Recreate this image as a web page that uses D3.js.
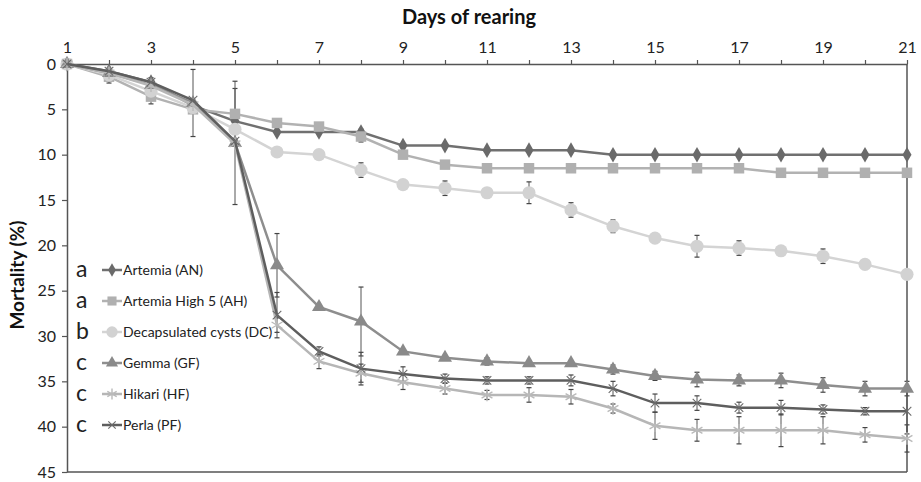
<!DOCTYPE html>
<html>
<head>
<meta charset="utf-8">
<script src="https://cdn.jsdelivr.net/npm/d3@7"></script>
<style>
  body { margin: 0; background: #fff; }
  svg text { font-family: Lato, "Liberation Sans", sans-serif; }
</style>
</head>
<body>
<svg id="chart" width="921" height="482"></svg>
<script>
// Days on the top axis
var days = [1,2,3,4,5,6,7,8,9,10,11,12,13,14,15,16,17,18,19,20,21];
var mortalityTicks = [0,5,10,15,20,25,30,35,40,45];

// Series values (mortality %)
var seriesNames = ["Artemia (AN)", "Artemia High 5 (AH)", "Decapsulated cysts (DC)", "Gemma (GF)", "Hikari (HF)", "Perla (PF)"];
var groupLetters = ["a", "a", "b", "c", "c", "c"];
var valuesAN = [0,0.8,2.0,4.6,6.3,7.5,7.5,7.5,9.0,9.0,9.5,9.5,9.5,10,10,10,10,10,10,10,10];
var valuesAH = [0,1.4,3.6,5.0,5.5,6.5,6.9,8.0,10.0,11.1,11.5,11.5,11.5,11.5,11.5,11.5,11.5,12,12,12,12];
var valuesDC = [0,1.2,3.0,4.8,7.2,9.7,10.0,11.7,13.3,13.7,14.2,14.2,16.1,17.9,19.2,20.1,20.3,20.6,21.2,22.1,23.2];
var valuesGF = [0,1.0,2.3,4.3,8.7,22.2,26.8,28.4,31.7,32.4,32.8,33.0,33.0,33.7,34.4,34.8,34.9,34.9,35.4,35.8,35.8];
var valuesHF = [0,1.0,2.4,4.5,8.8,28.8,32.8,34.1,35.1,35.8,36.5,36.5,36.7,38.0,39.9,40.4,40.4,40.4,40.4,40.9,41.3];
var valuesPF = [0,0.8,2.0,4.0,8.5,27.7,31.7,33.6,34.2,34.7,34.9,34.9,34.9,35.8,37.4,37.4,37.9,37.9,38.1,38.3,38.3];

// Error bar half-widths (0 = none visible)
var errAN = [0,0.3,0.5,0,0,0,0,0.3,0,0,0,0,0,0,0,0,0,0,0,0,0];
var errAH = [0,0.7,0.8,0,2.8,0,0,0.6,0.3,0,0,0,0,0,0,0,0,0,0,0,0];
var errDC = [0,0,0,0,0,0,0,0.8,0,0.8,0,1.2,0.8,0.7,0,1.2,0.8,0,0.8,0,0];
var errGF = [0,0,0,3.7,6.8,3.5,0,3.8,0,0,0.4,0,0,0.5,0.5,0.8,0.6,0.8,0.8,0.8,0.8];
var errHF = [0,0,0,0,0,0.8,0.8,1.0,0.8,0.6,0.5,0.8,0.8,0.5,1.5,1.2,1.5,1.8,1.5,0.8,1.5];
var errPF = [0,0,0,0,0,2.5,0.5,1.8,0.8,0.5,0.4,0.4,0.6,0.8,1.0,0.8,0.6,0.8,0.5,0.4,2.5];

var seriesValues = [valuesAN, valuesAH, valuesDC, valuesGF, valuesHF, valuesPF];
var seriesErrors = [errAN, errAH, errDC, errGF, errHF, errPF];

// Grey styles for each series
var styles = [
    { line: "#707070", symbol: d3.symbolDiamond,  size: 70,  fill: "#6a6a6a", stroke: false, sw: 0 },
    { line: "#b2b2b2", symbol: d3.symbolSquare,   size: 110, fill: "#b0b0b0", stroke: false, sw: 0 },
    { line: "#d4d4d4", symbol: d3.symbolCircle,   size: 135, fill: "#d2d2d2", stroke: false, sw: 0 },
    { line: "#8e8e8e", symbol: d3.symbolTriangle, size: 85,  fill: "#8a8a8a", stroke: false, sw: 0 },
    { line: "#b6b6b6", symbol: d3.symbolAsterisk, size: 110, fill: "#bababa", stroke: true,  sw: 1.4 },
    { line: "#5e5e5e", symbol: d3.symbolTimes,    size: 50,  fill: "#6a6a6a", stroke: true,  sw: 1.1 }
];

var svg = d3.select("#chart");

var x = d3.scaleLinear().domain([1, 21]).range([67, 907]);
var y = d3.scaleLinear().domain([0, 45]).range([64, 472]);

// Plot box (right and bottom edges)
svg.append("line").attr("x1", x(21)).attr("x2", x(21)).attr("y1", y(0)).attr("y2", y(45))
   .attr("stroke", "#555").attr("stroke-width", 1.5);
svg.append("line").attr("x1", x(1)).attr("x2", x(21)).attr("y1", y(45)).attr("y2", y(45))
   .attr("stroke", "#555").attr("stroke-width", 1.5);

// Top axis
var topAxis = svg.append("g")
                 .attr("transform", "translate(0," + y(0) + ")")
                 .call(d3.axisTop(x).tickValues(days)
                         .tickFormat(function(d){ return d % 2 ? d : ""; })
                         .tickSizeInner(4).tickSizeOuter(0).tickPadding(7));
// Left axis
var leftAxis = svg.append("g")
                  .attr("transform", "translate(" + x(1) + ",0)")
                  .call(d3.axisLeft(y).tickValues(mortalityTicks)
                          .tickSizeInner(5).tickSizeOuter(0).tickPadding(6));

[topAxis, leftAxis].forEach(function(g){
    g.select(".domain").attr("stroke", "#555").attr("stroke-width", 1.5);
    g.selectAll(".tick line").attr("stroke", "#555").attr("stroke-width", 1.2);
    g.selectAll(".tick text").attr("fill", "#222").style("font-size", "16px")
     .style("font-family", "Lato, sans-serif");
});

// Axis titles
svg.append("text").attr("x", 469).attr("y", 24).attr("text-anchor", "middle")
   .style("font-size", "20px").style("font-weight", "bold").attr("fill", "#111")
   .text("Days of rearing");
svg.append("text").attr("transform", "translate(24,275) rotate(-90)").attr("text-anchor", "middle")
   .style("font-size", "19px").style("font-weight", "bold").attr("fill", "#111")
   .text("Mortality (%)");

var line = d3.line()
             .x(function(d, i){ return x(days[i]); })
             .y(function(d){ return y(d); });

// Error bars first, then lines and markers for each series
seriesValues.forEach(function(vals, s){
    var errs = seriesErrors[s];
    var eg = svg.append("g").attr("class", "errbars");
    vals.forEach(function(v, i){
        if ( !errs[i] ) return;
        var cx = x(days[i]);
        eg.append("line").attr("x1", cx).attr("x2", cx)
          .attr("y1", y(Math.max(0, v - errs[i]))).attr("y2", y(v + errs[i]))
          .attr("stroke", "#555").attr("stroke-width", 1);
        [v - errs[i], v + errs[i]].forEach(function(e){
            if ( e < 0 ) return;
            eg.append("line").attr("x1", cx - 2.5).attr("x2", cx + 2.5)
              .attr("y1", y(e)).attr("y2", y(e))
              .attr("stroke", "#444").attr("stroke-width", 1.2);
        });
    });
});

seriesValues.forEach(function(vals, s){
    var st = styles[s];
    svg.append("path").datum(vals)
       .attr("d", line)
       .attr("fill", "none")
       .attr("stroke", st.line)
       .attr("stroke-width", 2.5);

    svg.append("g").selectAll("path")
       .data(vals)
       .join("path")
       .attr("transform", function(d, i){ return "translate(" + x(days[i]) + "," + y(d) + ")"; })
       .attr("d", d3.symbol().type(st.symbol).size(st.size))
       .attr("fill", st.stroke ? "none" : st.fill)
       .attr("stroke", st.stroke ? st.fill : "none")
       .attr("stroke-width", st.sw);
});

// Legend with significance letters
var legendY = [270, 301, 332, 363, 394, 425];
seriesNames.forEach(function(name, s){
    var st = styles[s];
    var ly = legendY[s];
    svg.append("text").attr("x", 76).attr("y", ly + 7)
       .style("font-size", "23px").attr("fill", "#222").text(groupLetters[s]);
    svg.append("line").attr("x1", 102).attr("x2", 122).attr("y1", ly).attr("y2", ly)
       .attr("stroke", st.line).attr("stroke-width", 2.5);
    svg.append("path").attr("transform", "translate(112," + ly + ")")
       .attr("d", d3.symbol().type(st.symbol).size(st.size * 0.75))
       .attr("fill", st.stroke ? "none" : st.fill)
       .attr("stroke", st.stroke ? st.fill : "none")
       .attr("stroke-width", st.sw);
    svg.append("text").attr("x", 123).attr("y", ly + 5)
       .style("font-size", "14px").attr("fill", "#222").text(name);
});
</script>
</body>
</html>
